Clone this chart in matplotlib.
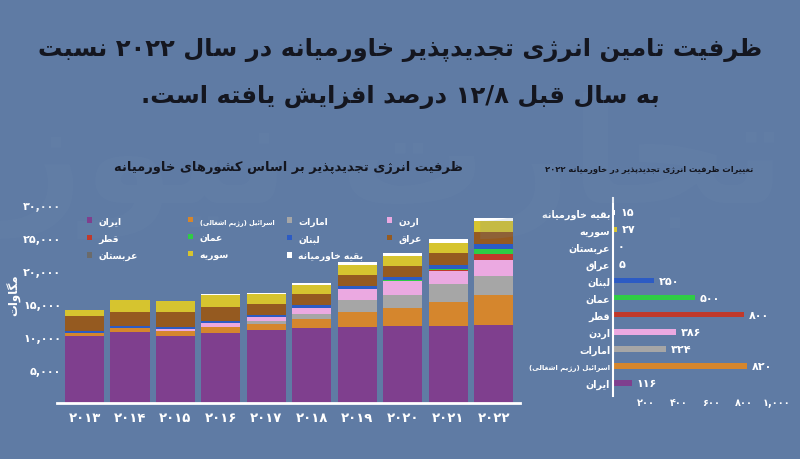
import matplotlib
matplotlib.use("Agg")
import matplotlib.pyplot as plt
import numpy as np

# ---- data ----
years = ["2013", "2014", "2015", "2016", "2017", "2018", "2019", "2020", "2021", "2022"]

iran = [10100, 10700, 10100, 10550, 11130, 11380, 11540, 11630, 11650, 11770]
israel = [500, 670, 870, 900, 900, 1370, 2240, 2700, 3720, 4540]
uae = [0, 0, 0, 100, 450, 660, 1830, 2030, 2620, 2940]
jordan = [80, 0, 250, 600, 560, 1020, 1630, 2130, 2070, 2460]
qatar = [0, 0, 0, 0, 0, 0, 0, 0, 40, 840]
oman = [0, 0, 0, 0, 0, 0, 0, 100, 260, 760]
lebanon = [250, 250, 300, 250, 350, 400, 500, 500, 510, 760]
iraq = [2300, 2180, 2200, 2200, 1630, 1630, 1630, 1630, 1880, 1880]
saudi = [0, 0, 0, 0, 0, 0, 0, 0, 0, 0]
syria = [900, 1740, 1700, 1780, 1520, 1420, 1520, 1580, 1560, 1590]
rest = [0, 0, 0, 100, 150, 300, 400, 400, 500, 500]

change_names = ["ایران", "اسرائیل (رژیم اشغالی)", "امارات", "اردن", "قطر", "عمان",
                "لبنان", "عراق", "عربستان", "سوریه", "بقیه خاورمیانه"]
change_values = [116, 820, 324, 386, 800, 500, 250, 5, 0, 27, 15]

BG = "#5f7ba4"
DARK = "#14161f"
colors = {
    "ایران": "#7f3f8e", "اسرائیل (رژیم اشغالی)": "#d5862d", "امارات": "#a6a6a6",
    "اردن": "#eba9e1", "قطر": "#c0392b", "عمان": "#2fcc45", "لبنان": "#2c5bc4",
    "عراق": "#955a20", "عربستان": "#6b6b6b", "سوریه": "#d6c42f", "بقیه خاورمیانه": "#ffffff",
}

# ---- minimal persian shaping (matplotlib has no bidi / arabic shaping) ----
FOUR = {"ب": 0xFE8F, "ت": 0xFE95, "ث": 0xFE99, "ج": 0xFE9D, "ح": 0xFEA1, "خ": 0xFEA5,
        "س": 0xFEB1, "ش": 0xFEB5, "ص": 0xFEB9, "ض": 0xFEBD, "ط": 0xFEC1, "ظ": 0xFEC5,
        "ع": 0xFEC9, "غ": 0xFECD, "ف": 0xFED1, "ق": 0xFED5, "ل": 0xFEDD, "م": 0xFEE1,
        "ن": 0xFEE5, "ه": 0xFEE9, "ي": 0xFEF1, "ئ": 0xFE89, "پ": 0xFB56, "چ": 0xFB7A,
        "ک": 0xFB8E, "گ": 0xFB92, "ی": 0xFBFC}
TWO = {"ا": 0xFE8D, "آ": 0xFE81, "أ": 0xFE83, "إ": 0xFE87, "ؤ": 0xFE85, "د": 0xFEA9,
       "ذ": 0xFEAB, "ر": 0xFEAD, "ز": 0xFEAF, "ژ": 0xFB8A, "و": 0xFEED, "ة": 0xFE93}
LAMALEF = {"ا": 0xFEFB, "آ": 0xFEF5, "أ": 0xFEF7, "إ": 0xFEF9}
FA_DIGITS = str.maketrans("0123456789", "۰۱۲۳۴۵۶۷۸۹")


def shape(text):
    units = []
    i = 0
    while i < len(text):
        c = text[i]
        if c == "ل" and i + 1 < len(text) and text[i + 1] in LAMALEF:
            units.append((LAMALEF[text[i + 1]], 2))
            i += 2
            continue
        if c in FOUR:
            units.append((FOUR[c], 4))
        elif c in TWO:
            units.append((TWO[c], 2))
        else:
            units.append((c, 0))
        i += 1
    out = []
    for k, (base, kind) in enumerate(units):
        if kind == 0:
            if base != "\u200c":
                out.append(base)
            continue
        prev = k > 0 and units[k - 1][1] == 4
        nxt = kind == 4 and k + 1 < len(units) and units[k + 1][1] in (2, 4)
        if kind == 2:
            off = 1 if prev else 0
        else:
            off = 3 if (prev and nxt) else 1 if prev else 2 if nxt else 0
        out.append(chr(base + off))
    return "".join(out)


def fa(text):
    lines = []
    for line in text.split("\n"):
        s = shape(line.translate(FA_DIGITS))
        tokens = []
        i = 0
        while i < len(s):
            if s[i].isdigit():
                j = i
                while j < len(s) and (s[j].isdigit() or (s[j] in ",./" and j + 1 < len(s) and s[j + 1].isdigit())):
                    j += 1
                tokens.append(s[i:j])
                i = j
            else:
                tokens.append({"(": ")", ")": "("}.get(s[i], s[i]))
                i += 1
        lines.append("".join(reversed(tokens)))
    return "\n".join(lines)


def fnum(v):
    return f"{v:,}".translate(FA_DIGITS)


plt.rcParams["font.family"] = ["DejaVu Sans"]
plt.rcParams["font.weight"] = "bold"

fig = plt.figure(figsize=(8, 4.6), dpi=100, facecolor=BG)

# faint watermark
fig.text(0.49, 0.64, fa("تجارت نیوز"), fontsize=105, color="#6d89b0", alpha=0.16,
         ha="center", va="center", fontweight="bold", zorder=0)

fig.text(0.5, 1 - 50 / 460, fa("ظرفیت تامین انرژی تجدیدپذیر خاورمیانه در سال 2022 نسبت"),
         ha="center", va="center", fontsize=17.5, fontweight="bold", color=DARK)
fig.text(0.5, 1 - 97 / 460, fa("به سال قبل 12/8 درصد افزایش یافته است."),
         ha="center", va="center", fontsize=17.5, fontweight="bold", color=DARK)

# ---- stacked bars ----
ax = fig.add_axes([57 / 800, 1 - 404 / 460, 463 / 800, 198 / 460])
ax.set_facecolor("none")
x = np.arange(len(years))
series = [("ایران", iran), ("اسرائیل (رژیم اشغالی)", israel), ("امارات", uae),
          ("اردن", jordan), ("قطر", qatar), ("عمان", oman), ("لبنان", lebanon),
          ("عراق", iraq), ("عربستان", saudi), ("سوریه", syria), ("بقیه خاورمیانه", rest)]
bottom = np.zeros(len(years))
handles = {}
for name, vals in series:
    vals = np.array(vals, dtype=float)
    bars = ax.bar(x, vals, width=0.86, bottom=bottom, color=colors[name], linewidth=0)
    handles[name] = bars
    bottom += vals

ax.set_xlim(-0.605, 9.58)
ax.set_ylim(0, 30000)
yt = [5000, 10000, 15000, 20000, 25000, 30000]
ax.set_yticks(yt, [fnum(v) for v in yt])
ax.set_xticks(x, [fa(y) for y in years])
ax.tick_params(axis="y", length=0, pad=-3, labelcolor="white", labelsize=8)
ax.tick_params(axis="x", length=0, pad=6, labelcolor="white", labelsize=9.5)
for s in ["top", "right", "left"]:
    ax.spines[s].set_visible(False)
ax.spines["bottom"].set_color("white")
ax.spines["bottom"].set_linewidth(2)

fig.text(14 / 800, 1 - 295 / 460, fa("مگاوات"), rotation=90, ha="center", va="center",
         fontsize=8.5, fontweight="bold", color="white")

# legend: one small legend per column, placed like the reference
legend_cols = [(82, ["ایران", "قطر", "عربستان"]),
               (183, ["اسرائیل (رژیم اشغالی)", "عمان", "سوریه"]),
               (282, ["امارات", "لبنان", "بقیه خاورمیانه"]),
               (382, ["اردن", "عراق"])]
for lx, names in legend_cols:
    leg = fig.legend([handles[n] for n in names], [fa(n) for n in names],
                     loc="upper left", bbox_to_anchor=(lx / 800, 1 - 213 / 460),
                     frameon=False, fontsize=6.6, handlelength=0.6, handleheight=0.6,
                     handletextpad=0.7, labelspacing=0.88, borderpad=0)
    for n, t in zip(names, leg.get_texts()):
        t.set_color("white")
        if n.startswith("اسرائیل"):
            t.set_fontsize(4.7)

fig.text(288 / 800, 1 - 167 / 460, fa("ظرفیت انرژی تجدیدپذیر بر اساس کشورهای خاورمیانه"),
         ha="center", va="center", fontsize=9.4, fontweight="bold", color=DARK)

# ---- change bars ----
ax2 = fig.add_axes([613 / 800, 1 - 397 / 460, 164 / 800, 198 / 460])
ax2.set_facecolor("none")
yy = np.arange(len(change_names))
ax2.barh(yy, change_values, height=0.32, color=[colors[n] for n in change_names])
for i, v in enumerate(change_values):
    ax2.text(v + 28, i, fnum(v), va="center", ha="left", color="white",
             fontsize=8, fontweight="bold")
ax2.set_xlim(0, 1000)
ax2.set_ylim(-0.76, 10.84)
xt = [200, 400, 600, 800, 1000]
ax2.set_xticks(xt, [fnum(v) for v in xt])
ax2.set_yticks(yy, [fa(n) for n in change_names])
ax2.tick_params(axis="x", length=0, pad=1, labelcolor="white", labelsize=7)
ax2.tick_params(axis="y", length=0, pad=2, labelcolor="white", labelsize=6.9)
ax2.get_yticklabels()[1].set_fontsize(5)
for s in ["top", "right", "bottom"]:
    ax2.spines[s].set_visible(False)
ax2.spines["left"].set_color("white")
ax2.spines["left"].set_linewidth(1.5)

fig.text(753 / 800, 1 - 169 / 460, fa("تغییرات ظرفیت انرژی تجدیدپذیر در خاورمیانه 2022"),
         ha="right", va="center", fontsize=6.0, fontweight="bold", color=DARK)

fig.savefig("out.png", dpi=100, facecolor=BG)
